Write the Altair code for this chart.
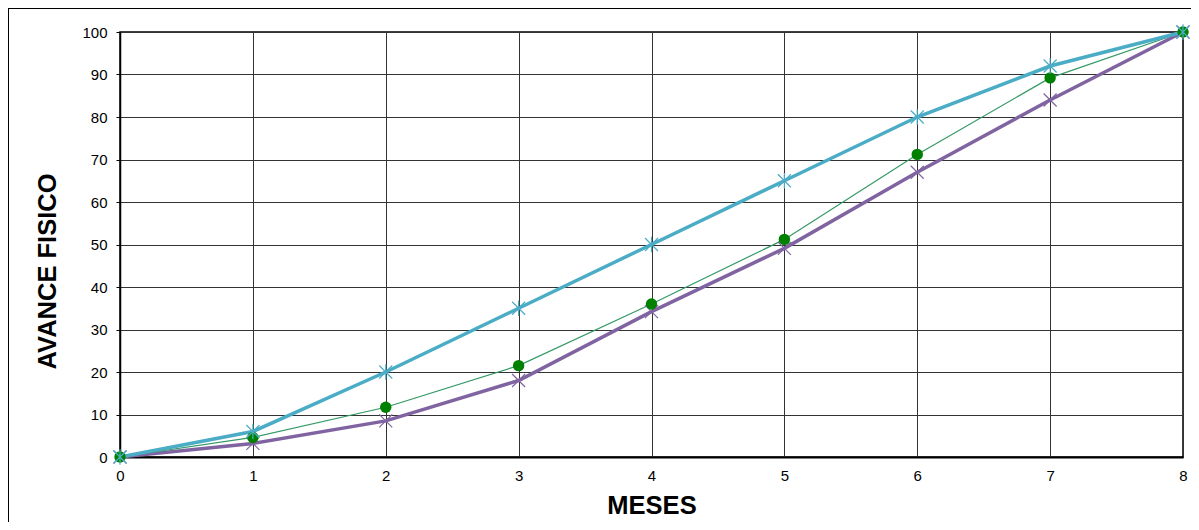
import altair as alt
import pandas as pd

meses = [0, 1, 2, 3, 4, 5, 6, 7, 8]
programado = [0, 6, 20, 35, 50, 65, 80, 92, 100]
valorizado = [0, 4.6, 11.7, 21.5, 36, 51.2, 71.2, 89.2, 100]
ejecutado = [0, 3.2, 8.5, 18, 34.2, 49.1, 67, 84, 100]

df = pd.DataFrame({"mes": meses, "prog": programado, "val": valorizado, "eje": ejecutado})

FONT = "Liberation Sans"
W, H = 1063, 425

x = alt.X("mes:Q", scale=alt.Scale(domain=[0, 8], nice=False),
          axis=alt.Axis(values=meses, title="MESES", format="d", tickSize=0,
                        labelPadding=11, titlePadding=10, grid=True, labelFlush=False,
                        domainWidth=2))
y_axis = alt.Axis(values=list(range(0, 101, 10)), title="AVANCE FISICO", tickSize=4,
                  labelPadding=9, titleX=-60, titleY=239, titleBaseline="bottom", grid=True,
                  labelFlush=False)

def yenc(col):
    return alt.Y(f"{col}:Q", scale=alt.Scale(domain=[0, 100], nice=False), axis=y_axis)

base = alt.Chart(df)

star = "M-1,-1L1,1M-1,1L1,-1M0,-1.2L0,1.2"
xshape = "M-1,-1L1,1M-1,1L1,-1"

purple_line = base.mark_line(color="#8064A2", strokeWidth=3.5).encode(x=x, y=yenc("eje"))
purple_pts = base.mark_point(shape=xshape, color="#8064A2", filled=False, size=170, strokeWidth=1.2, opacity=1).encode(x=x, y=yenc("eje"))
green_line = base.mark_line(color="#339966", strokeWidth=1.2).encode(x=x, y=yenc("val"))
green_pts = base.mark_point(shape="circle", color="#008000", filled=True, size=130, opacity=1).encode(x=x, y=yenc("val"))
blue_line = base.mark_line(color="#4BACC6", strokeWidth=3.5).encode(x=x, y=yenc("prog"))
blue_pts = base.mark_point(shape=star, color="#4BACC6", filled=False, size=170, strokeWidth=1.2, opacity=1).encode(x=x, y=yenc("prog"))

frame_top = alt.Chart(df).mark_rule(color="black", strokeWidth=1, clip=False).encode(
    x=alt.value(-112), x2=alt.value(W + 8), y=alt.value(-23.5))
frame_left = alt.Chart(df).mark_rule(color="black", strokeWidth=1, clip=False).encode(
    x=alt.value(-111.5), y=alt.value(-24), y2=alt.value(H + 65))

chart = alt.layer(frame_top, frame_left, purple_line, green_line, blue_line,
                  purple_pts, green_pts, blue_pts).properties(
    width=W, height=H,
    background="white",
    autosize=alt.AutoSizeParams(type="none"),
    padding={"left": 112, "top": 24, "right": 8, "bottom": 65},
).configure_view(stroke="black", strokeWidth=1.5).configure_axis(
    labelFont=FONT, labelFontSize=15, labelColor="black",
    titleFont=FONT, titleFontSize=25.5, titleFontWeight="bold", titleColor="black",
    gridColor="#333333", gridWidth=1, gridOpacity=1,
    domainColor="black", domainWidth=1.5, tickColor="black",
)

chart.save("out.html", embed_options={"renderer": "svg", "actions": False})
